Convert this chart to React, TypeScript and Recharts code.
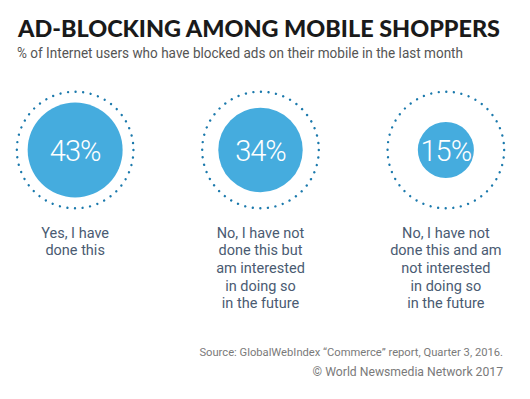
import { ScatterChart, Scatter, XAxis, YAxis, ZAxis } from 'recharts';

const answers = [
  'Yes, I have\ndone this',
  'No, I have not\ndone this but\nam interested\nin doing so\nin the future',
  'No, I have not\ndone this and am\nnot interested\nin doing so\nin the future',
];
const shares = [43, 34, 15];
const positions = [0, 1, 2];

const data = answers.map((label, i) => ({ idx: positions[i], row: 1, value: shares[i], label }));

const BLUE = '#45ACDE';
const DOT = '#1B79AC';
const LABEL = '#4A5B72';
const RING = 58.3;

function Bubble(props: any) {
  const { cx, cy, width, payload } = props;
  const circ = 2 * Math.PI * RING;
  const gap = circ / 48;
  return (
    <g>
      <circle
        cx={cx}
        cy={cy}
        r={RING}
        fill="none"
        stroke={DOT}
        strokeWidth={2.4}
        strokeLinecap="round"
        strokeDasharray={`0.01 ${gap - 0.01}`}
      />
      <circle cx={cx} cy={cy} r={width / 2} fill={BLUE} />
      <text
        x={cx}
        y={cy + 10.5}
        textAnchor="middle"
        fill="#fff"
        fontFamily="Roboto"
        fontWeight={300}
        fontSize={29}
        letterSpacing={-1}
      >
        {payload.value}%
      </text>
    </g>
  );
}

function AnswerTick(props: any) {
  const { x, y, payload } = props;
  const lines = answers[payload.value].split('\n');
  return (
    <text x={x} y={y} textAnchor="middle" fill={LABEL} fontFamily="Roboto" fontSize={14.5}>
      {lines.map((ln, i) => (
        <tspan key={i} x={x} dy={i === 0 ? 27.7 : 17.65}>
          {ln}
        </tspan>
      ))}
    </text>
  );
}

export default function App() {
  return (
    <div style={{ position: 'absolute', left: 0, top: 0, width: 530, height: 399, background: '#fff' }}>
      <ScatterChart width={530} height={399} margin={{ top: 90, right: 10, bottom: 69, left: 1 }}>
        <XAxis
          type="number"
          dataKey="idx"
          domain={[-0.4, 2.4]}
          ticks={positions}
          interval={0}
          axisLine={false}
          tickLine={false}
          tickSize={0}
          tickMargin={0}
          height={120}
          tick={<AnswerTick />}
        />
        <YAxis type="number" dataKey="row" domain={[0, 2]} hide />
        <ZAxis type="number" dataKey="value" domain={[0, 100]} range={[0, 16470]} />
        <Scatter data={data} shape={<Bubble />} isAnimationActive={false} />
      </ScatterChart>
      <svg width={530} height={399} style={{ position: 'absolute', left: 0, top: 0, pointerEvents: 'none' }}>
        <text
          x={18}
          y={36.7}
          fontFamily="Lato"
          fontWeight={900}
          fontSize={23}
          fill="#1a1a1a"
          textLength={482}
          lengthAdjust="spacingAndGlyphs"
        >
          AD-BLOCKING AMONG MOBILE SHOPPERS
        </text>
        <text
          x={17}
          y={58.3}
          fontFamily="Roboto"
          fontSize={14.5}
          fill="#555"
          textLength={446}
          lengthAdjust="spacingAndGlyphs"
        >
          % of Internet users who have blocked ads on their mobile in the last month
        </text>
        <text x={503} y={356} textAnchor="end" fontFamily="Roboto" fontSize={11.2} fill="#7a7a7a">
          Source: GlobalWebIndex “Commerce” report, Quarter 3, 2016.
        </text>
        <text x={503} y={376} textAnchor="end" fontFamily="Roboto" fontSize={12.2} fill="#7a7a7a">
          © World Newsmedia Network 2017
        </text>
      </svg>
    </div>
  );
}
